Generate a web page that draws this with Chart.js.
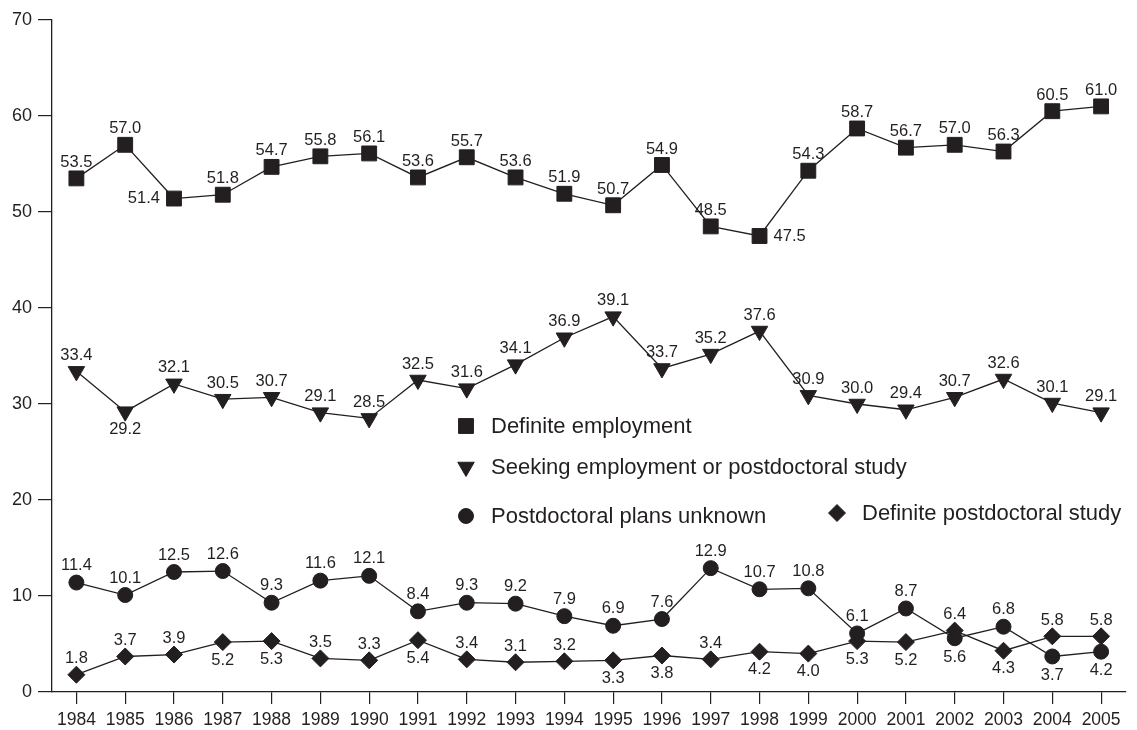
<!DOCTYPE html>
<html>
<head>
<meta charset="utf-8">
<script src="https://cdn.jsdelivr.net/npm/chart.js@4.4.0/dist/chart.umd.min.js"></script>
<style>
    html, body { margin: 0; padding: 0; background: #fff; }
</style>
</head>
<body>
<canvas id="phdChart" width="1137" height="730"></canvas>
<script>
// ---------------------------
// DATA
// ---------------------------
const years = ["1984", "1985", "1986", "1987", "1988", "1989", "1990", "1991", "1992", "1993", "1994",
    "1995", "1996", "1997", "1998", "1999", "2000", "2001", "2002", "2003", "2004", "2005"];

const definiteEmployment = [53.5, 57.0, 51.4, 51.8, 54.7, 55.8, 56.1, 53.6, 55.7, 53.6, 51.9,
    50.7, 54.9, 48.5, 47.5, 54.3, 58.7, 56.7, 57.0, 56.3, 60.5, 61.0];
const seekingEmployment = [33.4, 29.2, 32.1, 30.5, 30.7, 29.1, 28.5, 32.5, 31.6, 34.1, 36.9,
    39.1, 33.7, 35.2, 37.6, 30.9, 30.0, 29.4, 30.7, 32.6, 30.1, 29.1];
const plansUnknown = [11.4, 10.1, 12.5, 12.6, 9.3, 11.6, 12.1, 8.4, 9.3, 9.2, 7.9,
    6.9, 7.6, 12.9, 10.7, 10.8, 6.1, 8.7, 5.6, 6.8, 3.7, 4.2];
const definitePostdoc = [1.8, 3.7, 3.9, 5.2, 5.3, 3.5, 3.3, 5.4, 3.4, 3.1, 3.2,
    3.3, 3.8, 3.4, 4.2, 4.0, 5.3, 5.2, 6.4, 4.3, 5.8, 5.8];

const yTicks = [0, 10, 20, 30, 40, 50, 60, 70];

// where each value label sits: a = above, b = below, l = left, r = right
const employmentLabelPos = "aalaaaaaaaaaaaraaaaaaa".split("");
const seekingLabelPos    = "abaaaaaaaaaaaaaaaaaaaa".split("");
const unknownLabelPos    = "aaaaaaaaaaaaaaaaaababb".split("");
const postdocLabelPos    = "aaabbaabaaabbabbbbabaa".split("");

const ink = "#231f20";
const fontFamily = "'Liberation Sans', Arial, Helvetica, sans-serif";

// ---------------------------
// VALUE LABELS
// ---------------------------
const valueLabels = {
    id: "valueLabels",
    afterDatasetsDraw(chart) {
        const ctx = chart.ctx;
        ctx.save();
        ctx.fillStyle = ink;
        ctx.font = "16.5px " + fontFamily;
        chart.data.datasets.forEach((ds, di) => {
            const meta = chart.getDatasetMeta(di);
            meta.data.forEach((pt, i) => {
                const text = ds.data[i].toFixed(1);
                const pos = ds.labelPos[i];
                let x = pt.x, y = pt.y;
                ctx.textAlign = "center";
                ctx.textBaseline = "middle";
                if (pos === "a") y -= ds.labelGap;
                else if (pos === "b") y += ds.labelGap + 2;
                else if (pos === "l") { x -= 14; ctx.textAlign = "right"; }
                else if (pos === "r") { x += 14; ctx.textAlign = "left"; }
                ctx.fillText(text, x, y);
            });
        });
        ctx.restore();
    }
};

// ---------------------------
// LEGEND (inside the plot)
// ---------------------------
const innerLegend = {
    id: "innerLegend",
    afterDraw(chart) {
        const ctx = chart.ctx;
        const { left, top } = chart.chartArea;
        const items = [
            { ds: 0, x: 414, y: 406 },
            { ds: 1, x: 414, y: 447 },
            { ds: 2, x: 414, y: 496 },
            { ds: 3, x: 785, y: 493 }
        ];
        ctx.save();
        ctx.font = "22px " + fontFamily;
        ctx.textBaseline = "middle";
        ctx.textAlign = "left";
        items.forEach(it => {
            const ds = chart.data.datasets[it.ds];
            const mx = left + it.x, my = top + it.y;
            ctx.fillStyle = ink;
            ctx.strokeStyle = ink;
            ctx.lineWidth = 1;
            Chart.helpers.drawPoint(ctx, {
                pointStyle: ds.pointStyle,
                radius: ds.pointRadius,
                rotation: ds.pointRotation || 0,
                borderWidth: 1
            }, mx, my);
            ctx.fillStyle = ink;
            ctx.fillText(ds.label, mx + 25, my + 1);
        });
        ctx.restore();
    }
};

// ---------------------------
// CHART
// ---------------------------
const series = [
    { label: "Definite employment", data: definiteEmployment, labelPos: employmentLabelPos,
      pointStyle: "rect", pointRadius: 10.5, labelGap: 16 },
    { label: "Seeking employment or postdoctoral study", data: seekingEmployment, labelPos: seekingLabelPos,
      pointStyle: "triangle", pointRadius: 9.5, pointRotation: 180, labelGap: 16 },
    { label: "Postdoctoral plans unknown", data: plansUnknown, labelPos: unknownLabelPos,
      pointStyle: "circle", pointRadius: 7.5, labelGap: 17 },
    { label: "Definite postdoctoral study", data: definitePostdoc, labelPos: postdocLabelPos,
      pointStyle: "rectRot", pointRadius: 8.5, labelGap: 16 }
];

new Chart(document.getElementById("phdChart").getContext("2d"), {
    type: "line",
    data: {
        labels: years,
        datasets: series.map(s => ({
            label: s.label,
            data: s.data,
            labelPos: s.labelPos,
            labelGap: s.labelGap,
            pointStyle: s.pointStyle,
            pointRadius: s.pointRadius,
            pointRotation: s.pointRotation || 0,
            pointBackgroundColor: ink,
            pointBorderColor: ink,
            pointBorderWidth: 1,
            borderColor: ink,
            borderWidth: 1.3,
            fill: false,
            tension: 0
        }))
    },
    options: {
        responsive: false,
        animation: false,
        layout: { padding: { top: 20, right: 10, left: 0, bottom: 0 } },
        plugins: {
            legend: { display: false },
            tooltip: { enabled: false }
        },
        scales: {
            x: {
                offset: true,
                grid: { display: true, drawOnChartArea: false, drawTicks: true, tickLength: 12, color: ink, lineWidth: 1.2 },
                border: { display: true, color: ink, width: 1.3 },
                ticks: { color: ink, font: { family: fontFamily, size: 17.5 }, padding: 6, maxRotation: 0, autoSkip: false },
                afterFit: scale => { scale.height = 38; }
            },
            y: {
                min: 0,
                max: 70,
                afterBuildTicks: scale => { scale.ticks = yTicks.map(v => ({ value: v })); },
                grid: { display: true, drawOnChartArea: false, drawTicks: true, tickLength: 14, color: ink, lineWidth: 1.2 },
                border: { display: true, color: ink, width: 1.3 },
                ticks: { color: ink, font: { family: fontFamily, size: 18 }, padding: 6 },
                afterFit: scale => { scale.width = 52; }
            }
        }
    },
    plugins: [valueLabels, innerLegend]
});
</script>
</body>
</html>
